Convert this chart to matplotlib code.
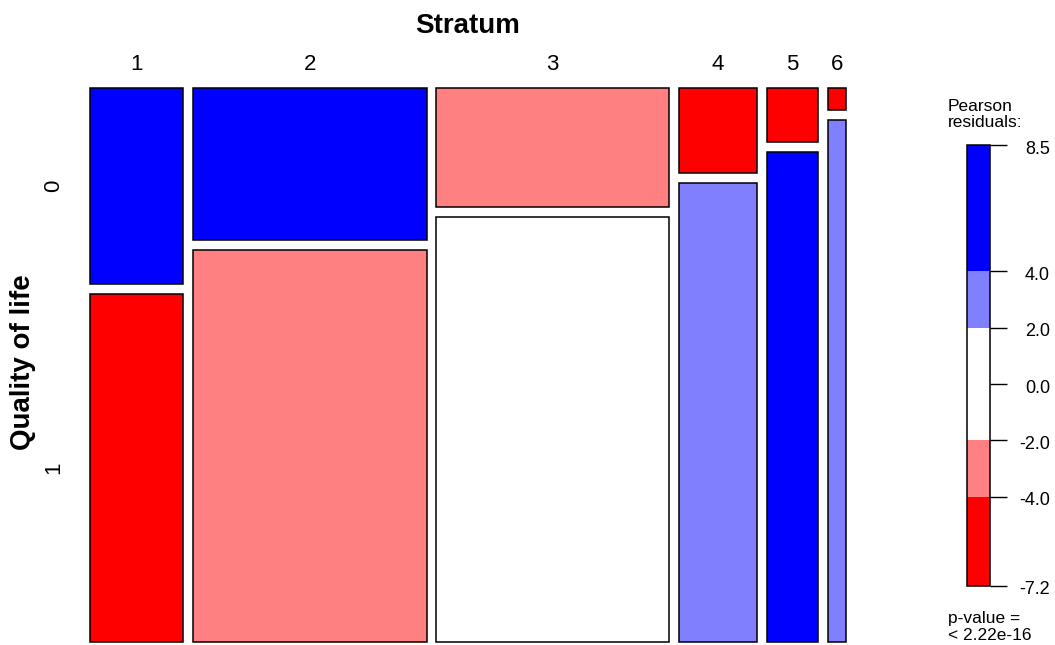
import numpy as np
import matplotlib
matplotlib.use("Agg")
import matplotlib.pyplot as plt
from matplotlib.patches import Rectangle
import matplotlib.transforms as mtransforms

# ---- data -------------------------------------------------------------
strata = ["1", "2", "3", "4", "5", "6"]
qol_levels = ["0", "1"]
count_q0 = [416, 819, 636, 153, 63, 9]      # Quality of life = 0
count_q1 = [739, 2096, 2262, 824, 572, 211]  # Quality of life = 1
legend_ticks = [-4.0, -2.0, 0.0, 2.0, 4.0]
pvalue_text = "< 2.22e-16"

# ---- computations -----------------------------------------------------
obs = np.array([count_q0, count_q1], dtype=float)
n = obs.sum()
row_tot = obs.sum(axis=1)
col_tot = obs.sum(axis=0)
expected = np.outer(row_tot, col_tot) / n
resid = (obs - expected) / np.sqrt(expected)
rmin, rmax = resid.min(), resid.max()

def shade(r):
    if r > 4:
        return "#0000FF"
    if r > 2:
        return "#8080FF"
    if r < -4:
        return "#FF0000"
    if r < -2:
        return "#FF8080"
    return "#FFFFFF"

FW, FH = 1055, 645
fig = plt.figure(figsize=(FW / 100, FH / 100), dpi=100)
plt.rcParams['font.family'] = ['Liberation Sans', 'DejaVu Sans']

def fx(px):
    return px / FW

def fy(py):
    return 1 - py / FH

# main mosaic axes
left_px, right_px, top_px, bot_px = 90.0, 845.7, 87.7, 641.5
ax = fig.add_axes([fx(left_px), fy(bot_px), fx(right_px - left_px), (bot_px - top_px) / FH])
ax.set_axis_off()

gx = 9.87 / 706.4
gy = 10.0 / 543.8
widths = col_tot / n
ax.set_xlim(0, 1 + gx * (len(strata) - 1))
ax.set_ylim(1 + gy, 0)

xstarts = np.concatenate([[0], np.cumsum(widths)[:-1]]) + gx * np.arange(len(strata))
centers = xstarts + widths / 2
for j in range(len(strata)):
    p0 = obs[0, j] / col_tot[j]
    ax.add_patch(Rectangle((xstarts[j], 0), widths[j], p0,
                           facecolor=shade(resid[0, j]), edgecolor="black", lw=1.1,
                           clip_on=False))
    ax.add_patch(Rectangle((xstarts[j], p0 + gy), widths[j], 1 - p0,
                           facecolor=shade(resid[1, j]), edgecolor="black", lw=1.1,
                           clip_on=False))

# column labels
trans_top = mtransforms.blended_transform_factory(ax.transData, fig.transFigure)
for j, s in enumerate(strata):
    ax.text(centers[j], fy(70.3), s, transform=trans_top, ha="center", va="baseline",
            fontsize=16)
fig.text(fx((left_px + right_px) / 2), fy(33.0), "Stratum", ha="center", va="baseline",
         fontsize=20, fontweight="bold")

# row labels (placed at first column tiles)
trans_left = mtransforms.blended_transform_factory(fig.transFigure, ax.transData)
p0_first = obs[0, 0] / col_tot[0]
row_centers = [p0_first / 2, p0_first + gy + (1 - p0_first) / 2]
for i, lab in enumerate(qol_levels):
    ax.text(fx(64.0), row_centers[i], lab, transform=trans_left, rotation=90,
            ha="right", va="center", fontsize=16)
fig.text(fx(23.5), fy(362), "Quality of life", rotation=90, ha="center", va="center",
         fontsize=20, fontweight="bold")

# ---- legend -----------------------------------------------------------
lb_left, lb_right, lb_top, lb_bot = 967.3, 990.0, 145.0, 586.0
lax = fig.add_axes([fx(lb_left), fy(lb_bot), fx(lb_right - lb_left), (lb_bot - lb_top) / FH])
lax.set_axis_off()
lax.set_xlim(0, 1)
lax.set_ylim(rmin, rmax)
bounds = [rmin, -4, -2, 2, 4, rmax]
mids = [-5, -3, 0, 3, 5]
for k in range(len(bounds) - 1):
    lax.add_patch(Rectangle((0, bounds[k]), 1, bounds[k + 1] - bounds[k],
                            facecolor=shade(mids[k]), edgecolor="none"))
lax.add_patch(Rectangle((0, rmin), 1, rmax - rmin, facecolor="none",
                        edgecolor="black", lw=1.1, clip_on=False))
trans_leg = mtransforms.blended_transform_factory(fig.transFigure, lax.transData)
shift = mtransforms.ScaledTranslation(0, -4 / 100, fig.dpi_scale_trans)
all_ticks = [rmin] + legend_ticks + [rmax]
for t in all_ticks:
    lax.plot([fx(lb_right), fx(1007.3)], [t, t], transform=trans_leg, color="black",
             lw=1.0, clip_on=False, solid_capstyle="butt")
    lax.text(fx(1050), t, f"{t:.1f}", transform=trans_leg + shift, ha="right",
             va="center", fontsize=13)

fig.text(fx(948), fy(110.7), "Pearson", ha="left", va="baseline", fontsize=12.5)
fig.text(fx(948), fy(127.3), "residuals:", ha="left", va="baseline", fontsize=12.5)
fig.text(fx(947.5), fy(623.0), "p-value =", ha="left", va="baseline", fontsize=12.5)
fig.text(fx(947.5), fy(640.0), pvalue_text, ha="left", va="baseline", fontsize=12.5)

fig.savefig("out.png", dpi=100)
